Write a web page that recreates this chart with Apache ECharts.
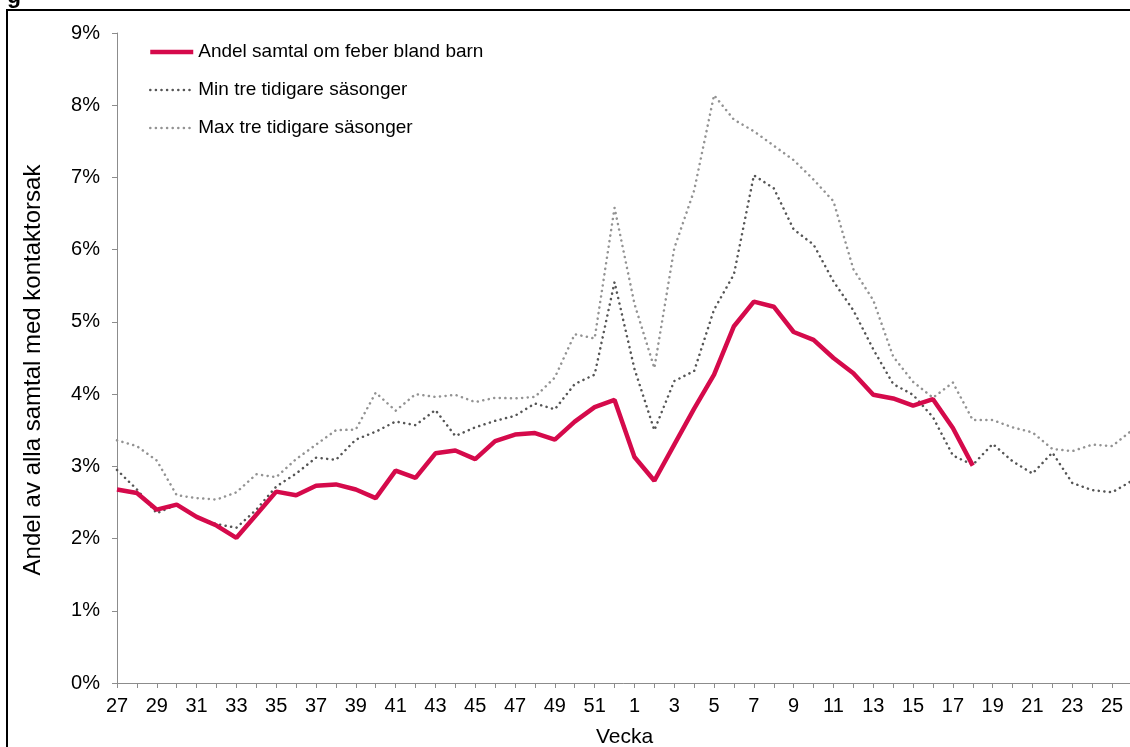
<!DOCTYPE html>
<html>
<head>
<meta charset="utf-8">
<script src="https://cdn.jsdelivr.net/npm/echarts@6/dist/echarts.min.js"></script>
<style>
  html, body { margin: 0; padding: 0; background: #fff; }
  #chart { width: 1130px; height: 747px; }
</style>
</head>
<body>
<div id="chart"></div>
<script>
// veckor 27-52, 1-26
const weeks = [
  '27', '28', '29', '30', '31', '32', '33', '34', '35', '36', '37', '38', '39',
  '40', '41', '42', '43', '44', '45', '46', '47', '48', '49', '50', '51', '52',
  '1', '2', '3', '4', '5', '6', '7', '8', '9', '10', '11', '12', '13',
  '14', '15', '16', '17', '18', '19', '20', '21', '22', '23', '24', '25', '26'
];

// Andel samtal om feber bland barn (%), t.o.m. vecka 18
const andel = [
  2.68, 2.63, 2.40, 2.47, 2.30, 2.18, 2.01, 2.33, 2.65, 2.60, 2.73, 2.75, 2.68,
  2.56, 2.94, 2.84, 3.18, 3.22, 3.10, 3.35, 3.44, 3.46, 3.37, 3.62, 3.82, 3.92,
  3.13, 2.80, 3.30, 3.80, 4.27, 4.94, 5.28, 5.21, 4.86, 4.75, 4.50, 4.29, 3.99,
  3.94, 3.84, 3.93, 3.53, 3.01
];

// Min tre tidigare säsonger (%)
const minPrev = [
  2.95, 2.68, 2.35, 2.47, 2.30, 2.20, 2.15, 2.40, 2.72, 2.90, 3.12, 3.09, 3.37,
  3.48, 3.62, 3.57, 3.78, 3.42, 3.54, 3.63, 3.70, 3.87, 3.79, 4.14, 4.27, 5.55,
  4.35, 3.50, 4.18, 4.32, 5.17, 5.66, 7.03, 6.85, 6.28, 6.07, 5.56, 5.16, 4.62,
  4.14, 3.99, 3.68, 3.15, 3.02, 3.31, 3.07, 2.90, 3.19, 2.77, 2.67, 2.64, 2.80
];

// Max tre tidigare säsonger (%)
const maxPrev = [
  3.36, 3.28, 3.08, 2.60, 2.56, 2.54, 2.64, 2.89, 2.85, 3.10, 3.30, 3.50, 3.51,
  4.02, 3.77, 4.00, 3.96, 3.99, 3.89, 3.95, 3.94, 3.96, 4.23, 4.83, 4.77, 6.58,
  5.25, 4.36, 6.02, 6.82, 8.14, 7.80, 7.64, 7.44, 7.24, 6.97, 6.67, 5.73, 5.30,
  4.52, 4.17, 3.95, 4.16, 3.64, 3.64, 3.54, 3.47, 3.24, 3.21, 3.30, 3.28, 3.50
];

const FONT = '"Liberation Sans", Arial, sans-serif';
const axisGrey = '#8c8c8c';
const red = '#d50a4b';
const darkDot = '#555555';
const lightDot = '#939393';
const dots = [0.1, 5.5];

const chart = echarts.init(document.getElementById('chart'));

chart.setOption({
  animation: false,
  backgroundColor: '#fff',
  textStyle: { fontFamily: FONT, color: '#000' },
  graphic: [
    {
      type: 'rect',
      shape: { x: 7, y: 10, width: 1140, height: 760 },
      style: { fill: 'none', stroke: '#000', lineWidth: 2 }
    },
    {
      type: 'text',
      left: 7,
      top: -15,
      style: { text: 'g', font: 'bold 23px ' + FONT, fill: '#000' }
    }
  ],
  grid: { left: 117, right: -2, top: 33, bottom: 64, containLabel: false, outerBoundsMode: 'none' },
  legend: {
    orient: 'vertical',
    left: 148,
    top: 42,
    padding: 0,
    itemWidth: 43,
    itemHeight: 20,
    itemGap: 18,
    itemStyle: { opacity: 0 },
    textStyle: { fontFamily: FONT, fontSize: 19, color: '#000', lineHeight: 20 },
    data: [
      { name: 'Andel samtal om feber bland barn', lineStyle: { color: red, width: 4.5, type: 'solid' } },
      { name: 'Min tre tidigare säsonger', lineStyle: { color: darkDot, width: 2.5, type: dots, cap: 'round' } },
      { name: 'Max tre tidigare säsonger', lineStyle: { color: lightDot, width: 2.5, type: dots, cap: 'round' } }
    ]
  },
  xAxis: {
    type: 'category',
    data: weeks,
    boundaryGap: false,
    name: 'Vecka',
    nameLocation: 'middle',
    nameGap: 44,
    nameTextStyle: { fontFamily: FONT, fontSize: 21, color: '#000' },
    axisLine: { lineStyle: { color: axisGrey, width: 1 } },
    axisTick: { interval: 0, length: 5, lineStyle: { color: axisGrey } },
    axisLabel: { interval: 1, margin: 13, fontSize: 20, color: '#000', fontFamily: FONT },
    splitLine: { show: false }
  },
  yAxis: {
    type: 'value',
    min: 0,
    max: 9,
    interval: 1,
    name: 'Andel av alla samtal med kontaktorsak',
    nameLocation: 'middle',
    nameGap: 72,
    nameTextStyle: { fontFamily: FONT, fontSize: 24, color: '#000', padding: [0, 24, 0, 0] },
    axisLine: { show: true, lineStyle: { color: axisGrey, width: 1 } },
    axisTick: { show: true, length: 5, lineStyle: { color: axisGrey } },
    axisLabel: { formatter: '{value}%', margin: 17, fontSize: 20, color: '#000', fontFamily: FONT },
    splitLine: { show: false }
  },
  series: [
    {
      name: 'Max tre tidigare säsonger',
      type: 'line',
      data: maxPrev,
      symbol: 'none',
      lineStyle: { color: lightDot, width: 2.5, type: dots, cap: 'round' },
      itemStyle: { color: lightDot },
      z: 2
    },
    {
      name: 'Min tre tidigare säsonger',
      type: 'line',
      data: minPrev,
      symbol: 'none',
      lineStyle: { color: darkDot, width: 2.5, type: dots, cap: 'round' },
      itemStyle: { color: darkDot },
      z: 3
    },
    {
      name: 'Andel samtal om feber bland barn',
      type: 'line',
      data: andel,
      symbol: 'none',
      lineStyle: { color: red, width: 4.5 },
      itemStyle: { color: red },
      z: 4
    }
  ]
});
</script>
</body>
</html>
